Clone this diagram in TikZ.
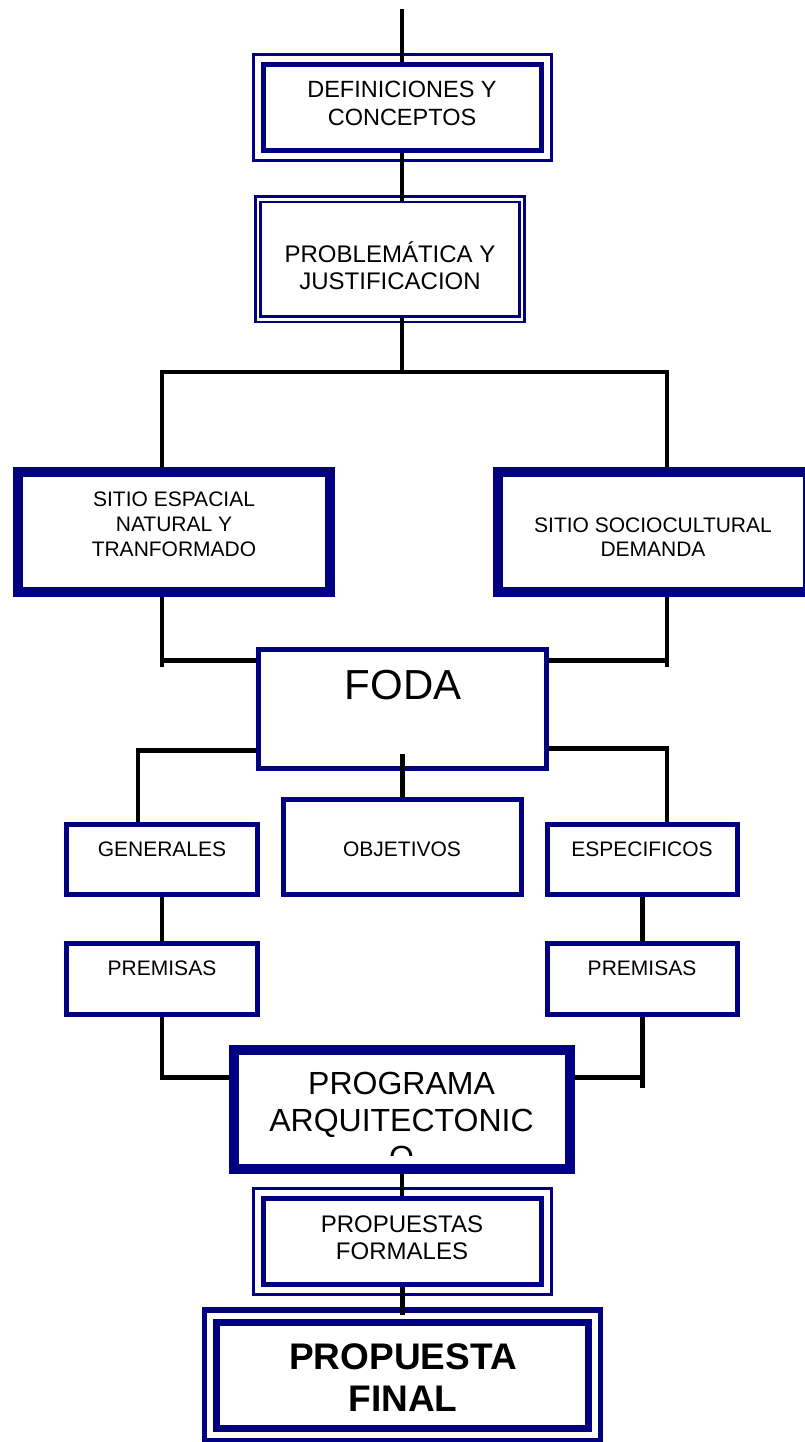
\documentclass[tikz,border=0pt]{standalone}
\usepackage{fontspec}
\setmainfont{Liberation Sans}
\definecolor{navyc}{RGB}{0,0,128}
\begin{document}
\begin{tikzpicture}[x=1pt,y=-1pt,
  nbox/.style={draw=navyc, inner sep=0pt, line join=miter},
  conn/.style={draw=black, line width=4.5pt, line join=miter},
  lbl/.style={inner sep=0pt, align=center, text=black}]
\useasboundingbox (0,0) rectangle (804,1442);

% ---------- boxes ----------
\node[nbox, line width=3.3pt, minimum width=298.3pt, minimum height=106.3pt] (b1o) at (402.4,107.5) {};
\node[nbox, line width=5pt, minimum width=278.3pt, minimum height=86.6pt] (b1) at (402.4,107.5) {};

\node[nbox, line width=2.7pt, minimum width=269.3pt, minimum height=125.6pt] (b2o) at (390,259.2) {};
\node[nbox, line width=2.7pt, minimum width=259.3pt, minimum height=114.3pt] (b2) at (390,259.2) {};

\node[nbox, line width=10pt, minimum width=312.3pt, minimum height=120pt] (sL) at (173.85,532.3) {};
\node[nbox, line width=10pt, minimum width=310.3pt, minimum height=120pt] (sR) at (652.85,532.3) {};

\node[nbox, line width=5pt, minimum width=287.5pt, minimum height=119pt] (foda) at (402.25,709) {};

\node[nbox, line width=5pt, minimum width=191pt, minimum height=70.6pt] (gen) at (162,859.5) {};
\node[nbox, line width=5pt, minimum width=238.5pt, minimum height=95pt] (obj) at (402.25,847.3) {};
\node[nbox, line width=5pt, minimum width=190.4pt, minimum height=70.6pt] (esp) at (642.3,859.5) {};

\node[nbox, line width=5pt, minimum width=191pt, minimum height=71pt] (pL) at (162,978.7) {};
\node[nbox, line width=5pt, minimum width=190.4pt, minimum height=71pt] (pR) at (642.3,978.7) {};

\node[nbox, line width=10pt, minimum width=336pt, minimum height=119.5pt] (prog) at (402,1109.25) {};

\node[nbox, line width=3.3pt, minimum width=298pt, minimum height=106pt] (pfo) at (402.4,1241.35) {};
\node[nbox, line width=5pt, minimum width=278.3pt, minimum height=85.7pt] (pf) at (402.4,1241.35) {};

\node[nbox, line width=5.5pt, minimum width=396.1pt, minimum height=130.2pt] (fo) at (402.4,1375.15) {};
\node[nbox, line width=6.5pt, minimum width=371.9pt, minimum height=105.9pt] (fi) at (402.4,1375.5) {};

% ---------- texts ----------
\node[lbl, font=\fontsize{23.5}{28}\selectfont] (t1) at (402,103.6) {DEFINICIONES Y\\CONCEPTOS};
\node[lbl, font=\fontsize{24}{27}\selectfont] (t2) at (390,265.9) {PROBLEMÁTICA Y\\JUSTIFICACION};
\node[lbl, font=\fontsize{21}{25}\selectfont] (t3) at (174,524.5) {SITIO ESPACIAL\\NATURAL Y\\TRANFORMADO};
\node[lbl, font=\fontsize{21}{24.5}\selectfont] (t4) at (653,537) {SITIO SOCIOCULTURAL\\DEMANDA};
\node[lbl, font=\fontsize{42}{48}\selectfont] (t5) at (403,685.5) {FODA};
\node[lbl, font=\fontsize{21}{25}\selectfont] (t6) at (162,849) {GENERALES};
\node[lbl, font=\fontsize{21}{25}\selectfont] (t7) at (402,849) {OBJETIVOS};
\node[lbl, font=\fontsize{21}{25}\selectfont] (t8) at (642,849) {ESPECIFICOS};
\node[lbl, font=\fontsize{21}{25}\selectfont] (t9) at (162,968) {PREMISAS};
\node[lbl, font=\fontsize{21}{25}\selectfont] (t10) at (642,968) {PREMISAS};
\begin{scope}
  \clip (234,1049) rectangle (570,1155);
  \node[lbl, font=\fontsize{32}{37}\selectfont] (t11) at (401.5,1120) {PROGRAMA\\ARQUITECTONIC\\O};
\end{scope}
\node[lbl, font=\fontsize{24}{27}\selectfont] (t12) at (402,1237.5) {PROPUESTAS\\FORMALES};
\node[lbl, font=\bfseries\fontsize{37}{42}\selectfont] (t13) at (403,1377.6) {PROPUESTA\\FINAL};

% ---------- connectors ----------
\coordinate (top) at (402,9);
\draw[conn] (top) -- (top |- b1.north);
\draw[conn] (b1.south -| top) -- (top |- b2.north);

\coordinate (jC) at (402,372);
\coordinate (jL) at (162,372);
\coordinate (jR) at (667,372);
\draw[conn] (b2.south -| jC) -- (jC);
\draw[conn] (sL.north -| jL) -- (jL) -- (jR) -- (sR.north -| jR);

\coordinate (kL) at (162,660.5);
\coordinate (kLe) at (162,667);
\draw[conn] (sL.south -| kL) -- (kLe);
\draw[conn] (kL) -- (foda.west |- kL);
\coordinate (kR) at (667,660.5);
\coordinate (kRe) at (667,667);
\draw[conn] (sR.south -| kR) -- (kRe);
\draw[conn] (foda.east |- kR) -- (kR);

\coordinate (gL) at (138,750.7);
\draw[conn] (foda.west |- gL) -- (gL) -- (gL |- gen.north);
\coordinate (gR) at (667,748.3);
\draw[conn] (foda.east |- gR) -- (gR) -- (gR |- esp.north);
\draw[conn] ([yshift=17pt]foda.south) -- (obj.north);

\draw[conn] (gen.south) -- (pL.north);
\draw[conn] (esp.south) -- (pR.north);

\coordinate (mL) at (162,1077.5);
\draw[conn] (pL.south) -- (mL) -- (mL -| prog.west);
\coordinate (mR) at (642.3,1077.5);
\coordinate (mRe) at (642.3,1088);
\draw[conn] (pR.south) -- (mRe);
\draw[conn] (prog.east |- mR) -- (mR);

\draw[conn] (prog.south) -- (prog.south |- pf.north);
\draw[conn] (pf.south) -- ([yshift=-8pt]fo.north);
\end{tikzpicture}
\end{document}
